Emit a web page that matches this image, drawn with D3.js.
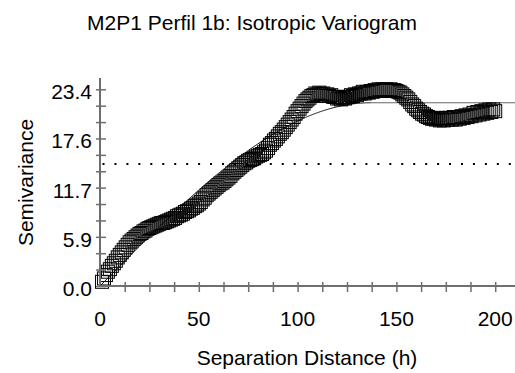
<!DOCTYPE html>
<html>
<head>
<meta charset="utf-8">
<script src="https://cdn.jsdelivr.net/npm/d3@7"></script>
<style>
  html, body { margin: 0; padding: 0; background: #fff; }
  svg { display: block; }
  text { font-family: "Liberation Sans", Arial, sans-serif; fill: #000; }
</style>
</head>
<body>
<svg id="chart" width="515" height="373"></svg>
<script>
// Chart text
const chartTitle = "M2P1 Perfil 1b: Isotropic Variogram";
const xTitle = "Separation Distance (h)";
const yTitle = "Semivariance";

// Axis ticks
const xTickValues = [0, 50, 100, 150, 200];
const xMinorStep = 12.5;
const yTickValues = [0, 5.85, 11.7, 17.55, 23.4];
const yTickLabels = ["0.0", "5.9", "11.7", "17.6", "23.4"];
const yMinorStep = 1.95;

// Experimental semivariogram (lag step 1, first lag at h = 1)
const lagStep = 1;
const semivariance = [
  0.5, 0.9, 1.3, 1.7, 2.0, 2.4, 2.7, 3.0, 3.4, 3.7,
  4.0, 4.3, 4.6, 4.9, 5.2, 5.4, 5.6, 5.8, 6.0, 6.2,
  6.3, 6.5, 6.6, 6.8, 6.9, 7.0, 7.1, 7.2, 7.3, 7.4,
  7.5, 7.5, 7.6, 7.7, 7.8, 7.9, 8.0, 8.1, 8.3, 8.4,
  8.5, 8.6, 8.8, 8.9, 9.0, 9.2, 9.3, 9.5, 9.6, 9.8,
  10.0, 10.3, 10.5, 10.8, 11.0, 11.2, 11.4, 11.6, 11.8, 12.0,
  12.2, 12.3, 12.5, 12.7, 12.9, 13.1, 13.4, 13.6, 13.8, 14.0,
  14.2, 14.4, 14.6, 14.7, 14.9, 15.0, 15.1, 15.2, 15.4, 15.5,
  15.6, 15.7, 15.9, 16.1, 16.4, 16.8, 17.0, 17.3, 17.5, 17.8,
  18.1, 18.3, 18.6, 18.9, 19.2, 19.5, 19.8, 20.1, 20.5, 20.8,
  21.1, 21.4, 21.7, 22.0, 22.2, 22.4, 22.6, 22.7, 22.9, 22.8,
  23.0, 22.8, 22.9, 22.6, 22.8, 22.6, 22.7, 22.5, 22.5, 22.3,
  22.4, 22.2, 22.4, 22.3, 22.5, 22.5, 22.7, 22.6, 22.8, 22.7,
  22.9, 22.9, 23.1, 22.9, 23.1, 23.0, 23.2, 23.1, 23.3, 23.2,
  23.4, 23.2, 23.4, 23.3, 23.4, 23.2, 23.4, 23.3, 23.3, 23.2,
  23.1, 23.0, 22.8, 22.6, 22.4, 22.2, 21.9, 21.6, 21.4, 21.1,
  20.9, 20.7, 20.5, 20.4, 20.2, 20.1, 20.0, 19.9, 19.9, 19.8,
  20.0, 19.7, 19.9, 19.7, 20.0, 19.8, 20.0, 19.8, 20.1, 19.8,
  20.1, 19.9, 20.2, 20.0, 20.3, 20.1, 20.4, 20.2, 20.6, 20.3,
  20.7, 20.4, 20.8, 20.5, 20.9, 20.6, 21.0, 20.7, 21.0, 20.8
];

// Fitted spherical model and sample variance
const modelNugget = 0;
const modelSill = 21.8;
const modelRange = 137;
const sampleVariance = 14.5;

const svg = d3.select("#chart");
const width = 515;

const x = d3.scaleLinear().domain([0, 200]).range([100, 495.2]);
const y = d3.scaleLinear().domain([0, 23.4]).range([286, 89.3]);
const xMax = x.invert(width);

const points = semivariance.map((v, i) => ({ h: (i + 1) * lagStep, v }));

// Variance reference (dotted)
const yVar = Math.round(y(sampleVariance));
svg.append("line")
  .attr("x1", x(0) + 2.5).attr("x2", width)
  .attr("y1", yVar).attr("y2", yVar)
  .attr("stroke", "#000").attr("stroke-width", 2)
  .attr("stroke-dasharray", "2 9.95");

// Spherical model
function spherical(h) {
  if (h >= modelRange) return modelNugget + modelSill;
  const r = h / modelRange;
  return modelNugget + modelSill * (1.5 * r - 0.5 * r * r * r);
}
const modelLine = d3.line().x(d => x(d)).y(d => y(spherical(d)));
const rising = d3.range(0, modelRange + 0.01, 0.5);
svg.append("path")
  .attr("d", modelLine([xMax, modelRange]))
  .attr("fill", "none").attr("stroke", "#666").attr("stroke-width", 1);
svg.append("path")
  .attr("d", modelLine(rising))
  .attr("fill", "none").attr("stroke", "#111").attr("stroke-width", 1);

// Experimental points: open squares
const sq = 13;
svg.append("g").selectAll("rect")
  .data(points)
  .join("rect")
  .attr("x", d => x(d.h) - sq / 2)
  .attr("y", d => y(d.v) - sq / 2)
  .attr("width", sq).attr("height", sq)
  .attr("fill", "none")
  .attr("stroke", "#000")
  .attr("stroke-width", 1);

// Axes
const axisColor = "#6e6e6e";
const gx = svg.append("g").attr("transform", `translate(0,${y(0)})`);
gx.call(d3.axisBottom(x)
  .tickValues(d3.range(xMinorStep, 200.01, xMinorStep))
  .tickSize(0).tickFormat(""));
gx.select(".domain").remove();
gx.selectAll(".tick line")
  .attr("y1", -4).attr("y2", 6)
  .attr("stroke", axisColor).attr("stroke-width", 1.5);
gx.append("line")
  .attr("x1", x(0)).attr("x2", width).attr("y1", 0).attr("y2", 0)
  .attr("stroke", axisColor).attr("stroke-width", 2);

const gy = svg.append("g").attr("transform", `translate(${x(0)},0)`);
gy.call(d3.axisLeft(y)
  .tickValues(d3.range(0, 23.41, yMinorStep))
  .tickSize(0).tickFormat(""));
gy.select(".domain").remove();
gy.selectAll(".tick line")
  .attr("x1", -4).attr("x2", 6)
  .attr("stroke", axisColor).attr("stroke-width", 1.5);
gy.append("line")
  .attr("x1", 0).attr("x2", 0).attr("y1", 78).attr("y2", y(0) + 1)
  .attr("stroke", axisColor).attr("stroke-width", 2);

// Tick labels
const fs = 21;
svg.append("g").selectAll("text")
  .data(xTickValues)
  .join("text")
  .attr("x", d => x(d)).attr("y", 325.5)
  .attr("text-anchor", "middle")
  .style("font-size", fs + "px")
  .text(d => d);

svg.append("g").selectAll("text")
  .data(yTickValues)
  .join("text")
  .attr("x", 92).attr("y", d => y(d) + 10)
  .attr("text-anchor", "end")
  .style("font-size", fs + "px")
  .text((d, i) => yTickLabels[i]);

// Titles
svg.append("text")
  .attr("x", 252).attr("y", 30)
  .attr("text-anchor", "middle")
  .style("font-size", fs + "px")
  .text(chartTitle);

svg.append("text")
  .attr("x", 307).attr("y", 365)
  .attr("text-anchor", "middle")
  .style("font-size", fs + "px")
  .text(xTitle);

svg.append("text")
  .attr("transform", "translate(33,182.5) rotate(-90)")
  .attr("text-anchor", "middle")
  .style("font-size", fs + "px")
  .text(yTitle);
</script>
</body>
</html>
